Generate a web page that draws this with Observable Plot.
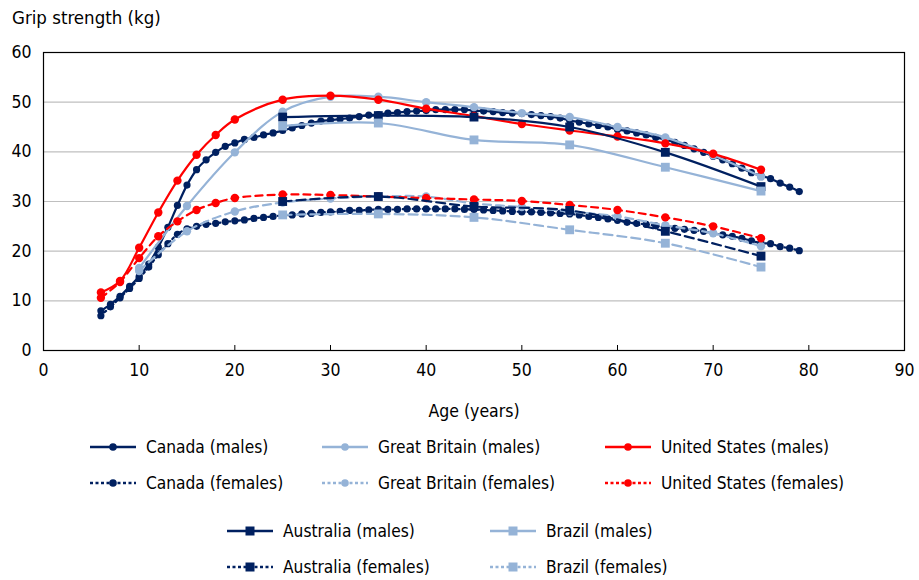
<!DOCTYPE html>
<html><head><meta charset="utf-8">
<script src="https://cdn.jsdelivr.net/npm/d3@7"></script>
<script src="https://cdn.jsdelivr.net/npm/@observablehq/plot@0.6"></script>
<style>
body{margin:0;background:#fff;}
#wrap{position:relative;width:919px;height:580px;font-family:"DejaVu Sans Condensed",sans-serif;color:#000;}
#title{position:absolute;left:12px;top:7px;font-size:18.5px;}
#chart{position:absolute;left:0;top:0;}
.item{position:absolute;display:flex;align-items:center;font-size:17.2px;height:24px;}
.item svg{margin-right:10px;}
</style></head><body>
<div id="wrap"><div id="chart"></div><div id="title">Grip strength (kg)</div></div>
<script>
// ---------- data ----------
const canadaAges = [6,7,8,9,10,11,12,13,14,15,16,17,18,19,20,21,22,23,24,25,26,27,28,29,30,31,32,33,34,35,36,37,38,39,40,41,42,43,44,45,46,47,48,49,50,51,52,53,54,55,56,57,58,59,60,61,62,63,64,65,66,67,68,69,70,71,72,73,74,75,76,77,78,79];
const canadaMales = [8.0,9.3,10.9,12.9,14.9,17.4,20.8,24.8,29.2,33.3,36.4,38.4,39.9,41.1,41.8,42.5,42.9,43.4,43.8,44.3,44.8,45.3,45.8,46.2,46.4,46.6,46.8,47.1,47.4,47.5,47.8,47.9,48.1,48.2,48.3,48.5,48.5,48.5,48.5,48.3,48.2,48.1,47.9,47.8,47.7,47.5,47.3,47.1,46.8,46.3,46.0,45.6,45.3,45.0,44.5,44.2,43.8,43.4,42.9,42.5,41.9,41.3,40.6,39.9,39.1,38.4,37.6,36.7,35.8,35.2,34.6,33.7,32.9,32.0];
const canadaFemales = [7.0,8.8,10.6,12.5,14.5,16.8,19.3,21.5,23.4,24.5,25.0,25.4,25.6,25.9,26.1,26.3,26.6,26.8,27.0,27.2,27.3,27.5,27.6,27.8,27.9,28.0,28.2,28.2,28.3,28.4,28.4,28.4,28.5,28.5,28.5,28.5,28.5,28.5,28.4,28.4,28.3,28.2,28.1,28.0,27.9,27.9,27.8,27.7,27.6,27.5,27.3,27.0,26.8,26.5,26.2,25.8,25.6,25.4,25.1,24.8,24.6,24.4,24.2,24.0,23.6,23.3,23.0,22.6,22.1,21.6,21.5,20.9,20.6,20.1];

const gbAges = [10,15,20,25,30,35,40,45,50,55,60,65,70,75];
const gbMales = [16.6,29.1,39.9,48.1,51.1,51.1,50.0,49.0,47.8,47.0,45.0,42.9,39.3,35.0];
const gbFemales = [16.0,24.0,28.0,29.8,30.6,31.0,31.0,29.6,28.9,28.0,27.0,25.2,23.6,21.0];

const usAges = [6,8,10,12,14,16,18,20,25,30,35,40,45,50,55,60,65,70,75];
const usMales = [11.7,14.0,20.7,27.8,34.2,39.4,43.4,46.5,50.5,51.3,50.5,48.7,47.2,45.6,44.3,43.1,41.7,39.6,36.4];
const usFemales = [10.6,13.8,18.6,23.0,26.0,28.3,29.7,30.7,31.4,31.3,31.0,30.7,30.4,30.1,29.3,28.3,26.8,25.0,22.6];

const auBrAges = [25,35,45,55,65,75];
const australiaMales = [47.0,47.3,47.0,45.0,39.9,33.0];
const australiaFemales = [30.0,31.0,29.0,28.2,24.0,19.0];
const brazilMales = [45.2,45.8,42.4,41.4,36.9,32.1];
const brazilFemales = [27.3,27.5,26.8,24.3,21.6,16.8];

const xTicks = [0,10,20,30,40,50,60,70,80,90];
const yTicks = [0,10,20,30,40,50,60];
const gridValues = [10,20,30,40,50];

const navy = "#002060", light = "#95B3D7", red = "#FF0000";

const seriesDefs = [
  {name:"Canada (males)", ages:canadaAges, values:canadaMales, color:navy, symbol:"circle", female:false, r:3.6},
  {name:"Canada (females)", ages:canadaAges, values:canadaFemales, color:navy, symbol:"circle", female:true, r:3.6, dash:"2,3"},
  {name:"Great Britain (males)", ages:gbAges, values:gbMales, color:light, symbol:"circle", female:false, r:4.2},
  {name:"Great Britain (females)", ages:gbAges, values:gbFemales, color:light, symbol:"circle", female:true, r:4.2, dash:"8,5"},
  {name:"United States (males)", ages:usAges, values:usMales, color:red, symbol:"circle", female:false, r:4.2},
  {name:"United States (females)", ages:usAges, values:usFemales, color:red, symbol:"circle", female:true, r:4.2, dash:"7,5"},
  {name:"Australia (males)", ages:auBrAges, values:australiaMales, color:navy, symbol:"square", female:false, r:5},
  {name:"Australia (females)", ages:auBrAges, values:australiaFemales, color:navy, symbol:"square", female:true, r:5, dash:"9,5"},
  {name:"Brazil (males)", ages:auBrAges, values:brazilMales, color:light, symbol:"square", female:false, r:5},
  {name:"Brazil (females)", ages:auBrAges, values:brazilFemales, color:light, symbol:"square", female:true, r:5, dash:"9,5"}
];

const marks = [
  Plot.gridY(gridValues, {stroke:"#BFBFBF", strokeOpacity:1, strokeWidth:1.2}),
  Plot.frame({stroke:"#000", strokeWidth:1.2}),
  Plot.axisY(yTicks, {tickSize:0, tickPadding:12, fontSize:17.5, label:null}),
  Plot.axisX(xTicks, {tickSize:-5, tickPadding:18, fontSize:17.5, label:"Age (years)", labelAnchor:"center", labelArrow:"none", labelOffset:66})
];
for (const s of seriesDefs) {
  const rows = s.ages.map((a,i)=>({age:a, v:s.values[i]}));
  marks.push(Plot.line(rows, {x:"age", y:"v", stroke:s.color, strokeWidth:2.2, curve:"catmull-rom", strokeDasharray: s.female ? s.dash : null}));
  marks.push(Plot.dot(rows, {x:"age", y:"v", fill:s.color, stroke:"none", symbol:s.symbol, r:s.r}));
}

const chart = Plot.plot({
  width:919, height:425,
  marginLeft:43, marginRight:15, marginTop:52, marginBottom:75,
  style:{fontFamily:'"DejaVu Sans Condensed",sans-serif', fontSize:"17.5px", color:"#000", background:"#fff"},
  x:{domain:[0,90]},
  y:{domain:[0,60]},
  marks
});
document.getElementById("chart").appendChild(chart);

// legend
const legendPos = [
  {name:"Canada (males)", x:90, y:447},
  {name:"Great Britain (males)", x:322, y:447},
  {name:"United States (males)", x:605, y:447},
  {name:"Canada (females)", x:90, y:483},
  {name:"Great Britain (females)", x:322, y:483},
  {name:"United States (females)", x:605, y:483},
  {name:"Australia (males)", x:227, y:531},
  {name:"Brazil (males)", x:490, y:531},
  {name:"Australia (females)", x:227, y:567},
  {name:"Brazil (females)", x:490, y:567}
];
const wrap = document.getElementById("wrap");
for (const p of legendPos) {
  const s = seriesDefs.find(d=>d.name===p.name);
  const div = document.createElement("div");
  div.className = "item";
  div.style.left = p.x + "px";
  div.style.top = (p.y - 12) + "px";
  const marker = s.symbol === "square"
    ? `<rect x="18.5" y="2.5" width="9" height="9" fill="${s.color}"/>`
    : `<circle cx="23" cy="7" r="3.8" fill="${s.color}"/>`;
  div.innerHTML = `<svg width="46" height="14"><line x1="0" x2="46" y1="7" y2="7" stroke="${s.color}" stroke-width="2.5" ${s.female ? 'stroke-dasharray="3,2.5"' : ''}/>${marker}</svg><span>${s.name}</span>`;
  wrap.appendChild(div);
}
</script>
</body></html>
